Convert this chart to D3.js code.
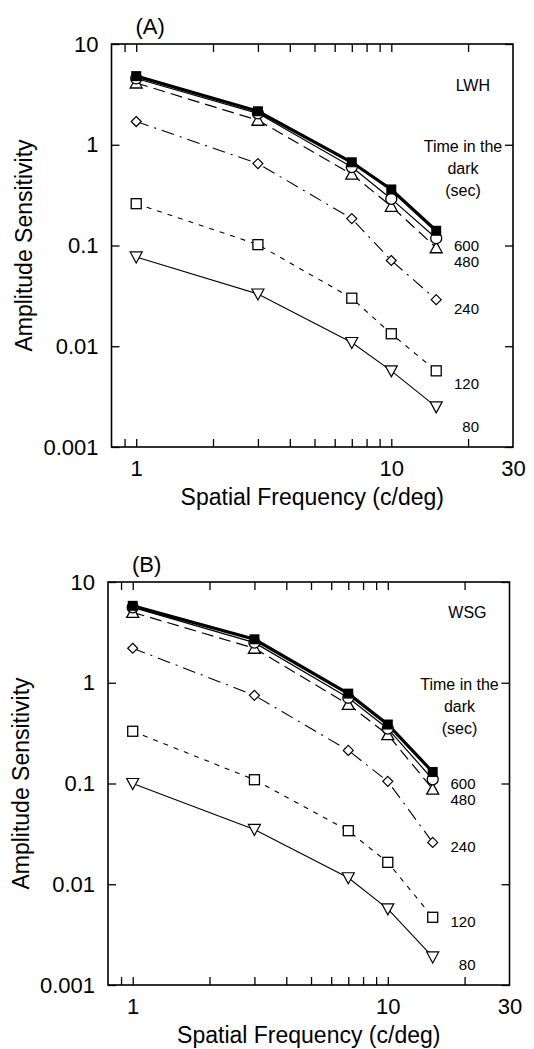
<!DOCTYPE html>
<html>
<head>
<meta charset="utf-8">
<script src="https://cdn.jsdelivr.net/npm/d3@7"></script>
<style>
  body { margin: 0; background: #fff; }
  svg { display: block; }
  text { font-family: "Liberation Sans", Arial, sans-serif; fill: #000; }
</style>
</head>
<body>
<div id="chart"></div>
<script>
// spatial frequencies tested (c/deg)
const freqs = [1, 3, 7, 10, 15];

// panel A, observer LWH (amplitude sensitivity)
const lwh600 = [4.8, 2.15, 0.67, 0.36, 0.14];
const lwh480 = [4.55, 2.05, 0.6, 0.29, 0.118];
const lwh360 = [4.1, 1.75, 0.51, 0.245, 0.095];
const lwh240 = [1.7, 0.65, 0.185, 0.071, 0.029];
const lwh120 = [0.26, 0.102, 0.030, 0.0133, 0.0057];
const lwh80  = [0.077, 0.033, 0.0109, 0.0057, 0.0025];

// panel B, observer WSG
const wsg600 = [5.8, 2.7, 0.78, 0.385, 0.13];
const wsg480 = [5.6, 2.5, 0.71, 0.35, 0.11];
const wsg360 = [5.0, 2.2, 0.61, 0.305, 0.088];
const wsg240 = [2.2, 0.75, 0.213, 0.105, 0.026];
const wsg120 = [0.33, 0.109, 0.034, 0.0165, 0.0047];
const wsg80  = [0.10, 0.035, 0.0116, 0.0057, 0.0019];

// labels on the right of the curves
const timeLabels = ["600", "480", "240", "120", "80"];
const timeLabelAt = [0.1, 0.069, 0.0233, 0.0042, 0.00158];

const xTickLabels = [1, 10, 30];
const xMinorTicks = [0.9, 1, 2, 3, 4, 5, 6, 7, 8, 9, 10, 20];
const yTicks = [10, 1, 0.1, 0.01, 0.001];
const yTickLabels = ["10", "1", "0.1", "0.01", "0.001"];

// line / marker style per series (same order in both panels)
const seriesStyle = [
  {marker: "filledSquare", width: 3.2, dash: null},
  {marker: "circle", width: 1.2, dash: null},
  {marker: "triUp", width: 1.2, dash: "12,6"},
  {marker: "diamond", width: 1.1, dash: "13,6,2,6"},
  {marker: "square", width: 1.1, dash: "5,6"},
  {marker: "triDown", width: 1.1, dash: null}
];

const W = 534, H = 1049;
const svg = d3.select("#chart").append("svg")
  .attr("width", W).attr("height", H);

function drawMarker(g, type, x, y) {
  if (type == "filledSquare") {
    g.append("rect").attr("x", x-5).attr("y", y-5).attr("width", 10).attr("height", 10)
      .attr("fill", "#000");
  } else if (type == "square") {
    g.append("rect").attr("x", x-5).attr("y", y-5).attr("width", 10).attr("height", 10)
      .attr("fill", "#fff").attr("stroke", "#000").attr("stroke-width", 1.3);
  } else if (type == "circle") {
    g.append("circle").attr("cx", x).attr("cy", y).attr("r", 5.5)
      .attr("fill", "#fff").attr("stroke", "#000").attr("stroke-width", 1.3);
  } else if (type == "triUp") {
    g.append("path").attr("d", `M${x},${y-6}L${x+6},${y+5}L${x-6},${y+5}Z`)
      .attr("fill", "#fff").attr("stroke", "#000").attr("stroke-width", 1.3);
  } else if (type == "triDown") {
    g.append("path").attr("d", `M${x},${y+6}L${x+6},${y-5}L${x-6},${y-5}Z`)
      .attr("fill", "#fff").attr("stroke", "#000").attr("stroke-width", 1.2);
  } else if (type == "diamond") {
    g.append("path").attr("d", `M${x},${y-5}L${x+5},${y}L${x},${y+5}L${x-5},${y}Z`)
      .attr("fill", "#fff").attr("stroke", "#000").attr("stroke-width", 1.2);
  }
}

function drawPanel(p) {
  const g = svg.append("g");

  const x = d3.scaleLog().domain([0.8, 30]).range([p.left, p.right]);
  const y = d3.scaleLog().domain([0.001, 10]).range([p.bottom, p.top]);

  // ticks on all four sides, pointing inward
  g.append("g").attr("transform", `translate(0,${p.bottom})`)
    .call(d3.axisBottom(x).tickValues(xMinorTicks).tickSizeInner(-8).tickSizeOuter(0).tickFormat(""));
  g.append("g").attr("transform", `translate(0,${p.top})`)
    .call(d3.axisTop(x).tickValues(xMinorTicks).tickSizeInner(-8).tickSizeOuter(0).tickFormat(""));
  g.append("g").attr("transform", `translate(${p.right},0)`)
    .call(d3.axisRight(y).tickValues(yTicks).tickSizeInner(-8).tickSizeOuter(0).tickFormat(""));

  const yAxis = g.append("g").attr("transform", `translate(${p.left},0)`)
    .call(d3.axisLeft(y).tickValues(yTicks).tickSizeInner(-8).tickSizeOuter(0).tickPadding(13)
      .tickFormat((d, i) => yTickLabels[i]));
  yAxis.selectAll("text").style("font-size", "22px");

  const xLab = g.append("g").attr("transform", `translate(0,${p.bottom})`)
    .call(d3.axisBottom(x).tickValues(xTickLabels).tickSize(0).tickPadding(13)
      .tickFormat(d3.format("d")));
  xLab.selectAll("text").style("font-size", "22px");

  g.selectAll(".domain").remove();
  g.selectAll(".tick line").attr("stroke", "#000").attr("stroke-width", 1.3);

  g.append("rect")
    .attr("x", p.left).attr("y", p.top)
    .attr("width", p.right - p.left).attr("height", p.bottom - p.top)
    .attr("fill", "none").attr("stroke", "#000").attr("stroke-width", 1.6);

  // curves
  const line = d3.line().x((d, i) => x(freqs[i])).y(d => y(d));
  p.series.forEach((s, k) => {
    const st = seriesStyle[k];
    g.append("path").datum(s)
      .attr("d", line)
      .attr("fill", "none").attr("stroke", "#000")
      .attr("stroke-width", st.width)
      .attr("stroke-dasharray", st.dash);
  });
  // markers drawn bottom series first so the top ones sit over them
  for (let k = p.series.length - 1; k >= 0; k--) {
    p.series[k].forEach((d, i) => drawMarker(g, seriesStyle[k].marker, x(freqs[i]), y(d)));
  }

  // right side annotations
  timeLabels.forEach((t, i) => {
    g.append("text").attr("x", p.right - 34).attr("y", y(timeLabelAt[i]))
      .attr("dy", "0.35em").attr("text-anchor", "end")
      .style("font-size", "15px").text(t);
  });
  ["Time in the", "dark", "(sec)"].forEach((t, i) => {
    g.append("text").attr("x", p.right - 50).attr("y", y(1) + 7 + i*22)
      .attr("text-anchor", "middle").style("font-size", "16px").text(t);
  });
  g.append("text").attr("x", p.right - 23).attr("y", p.top + p.idDrop)
    .attr("text-anchor", "end").style("font-size", "16px").text(p.observer);

  g.append("text").attr("x", p.left + 24).attr("y", p.top - 10)
    .style("font-size", "22px").text(p.tag);

  g.append("text")
    .attr("x", (p.left + p.right)/2).attr("y", p.bottom + 58)
    .attr("text-anchor", "middle").style("font-size", "23px")
    .text("Spatial Frequency (c/deg)");

  g.append("text")
    .attr("transform", `translate(${p.titleX},${(p.top + p.bottom)/2}) rotate(-90)`)
    .attr("text-anchor", "middle").style("font-size", "23px")
    .text("Amplitude Sensitivity");
}

drawPanel({
  left: 111.5, right: 513, top: 44, bottom: 447, titleX: 32, idDrop: 47,
  tag: "(A)", observer: "LWH",
  series: [lwh600, lwh480, lwh360, lwh240, lwh120, lwh80]
});

drawPanel({
  left: 108, right: 509.5, top: 582, bottom: 985, titleX: 29, idDrop: 36,
  tag: "(B)", observer: "WSG",
  series: [wsg600, wsg480, wsg360, wsg240, wsg120, wsg80]
});
</script>
</body>
</html>
